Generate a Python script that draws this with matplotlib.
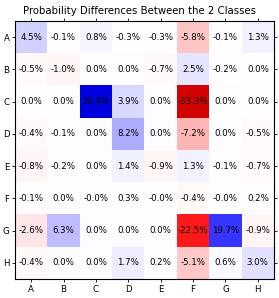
import numpy as np
import matplotlib
matplotlib.use("Agg")
import matplotlib.pyplot as plt

labels = ["A", "B", "C", "D", "E", "F", "G", "H"]
row_A = [4.5, -0.1, 0.8, -0.3, -0.3, -5.8, -0.1, 1.3]
row_B = [-0.5, -1.0, 0.0, 0.0, -0.7, 2.5, -0.2, 0.0]
row_C = [0.0, 0.0, 29.4, 3.9, 0.0, -33.3, 0.0, 0.0]
row_D = [-0.4, -0.1, 0.0, 8.2, 0.0, -7.2, 0.0, -0.5]
row_E = [-0.8, -0.2, 0.0, 1.4, -0.9, 1.3, -0.1, -0.7]
row_F = [-0.1, 0.0, -0.01, 0.3, -0.01, -0.4, -0.01, 0.2]
row_G = [-2.6, 6.3, 0.0, 0.0, 0.0, -22.5, 19.7, -0.9]
row_H = [-0.4, 0.0, 0.0, 1.7, 0.2, -5.1, 0.6, 3.0]
title = "Probability Differences Between the 2 Classes"

data = np.array([row_A, row_B, row_C, row_D, row_E, row_F, row_G, row_H])

fig = plt.figure(figsize=(2.79, 2.98), dpi=100)
ax = fig.add_axes([15/279, 19/298, 259/279, 258/298])
ax.imshow(data, cmap="seismic_r", vmin=-50, vmax=50, aspect="auto",
          interpolation="nearest")
for i in range(data.shape[0]):
    for j in range(data.shape[1]):
        ax.text(j, i, f"{data[i, j]:.1f}%", ha="center", va="center",
                fontsize=6.2, color="black")
ax.set_xticks(range(len(labels)))
ax.set_xticklabels(labels, fontsize=6.2)
ax.set_yticks(range(len(labels)))
ax.set_yticklabels(labels, fontsize=6.2)
ax.tick_params(axis="both", length=2.5, width=0.6, pad=1.5)
ax.tick_params(top=True, right=True)
for s in ax.spines.values():
    s.set_linewidth(0.8)
fig.text(0.5, 1 - 11/298, title, ha="center", va="center", fontsize=7.3)
fig.savefig("out.png", dpi=100)
